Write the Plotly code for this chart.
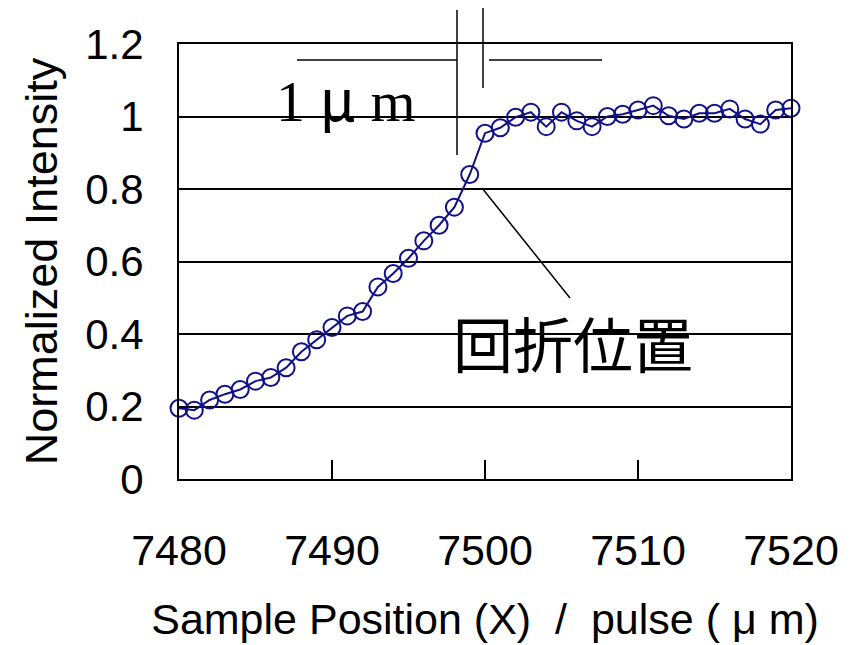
import plotly.graph_objects as go

positions = list(range(7480, 7521))
intensity = [0.195, 0.19, 0.218, 0.234, 0.247, 0.27, 0.28, 0.307, 0.351, 0.384,
             0.418, 0.45, 0.462, 0.53, 0.567, 0.609, 0.657, 0.70, 0.75, 0.84,
             0.954, 0.969, 0.998, 1.012, 0.972, 1.012, 0.988, 0.972, 1.0, 1.006,
             1.018, 1.03, 1.002, 0.993, 1.009, 1.009, 1.021, 0.993, 0.979, 1.018,
             1.023]
x_ticks = [7480, 7490, 7500, 7510, 7520]
y_ticks = [0, 0.2, 0.4, 0.6, 0.8, 1, 1.2]

navy = "#10108a"
font_family = "Arial, Liberation Sans, sans-serif"

fig = go.Figure()
fig.add_trace(go.Scatter(
    x=positions, y=intensity, mode="lines+markers",
    line=dict(color=navy, width=2),
    marker=dict(symbol="circle-open", size=17, color=navy, line=dict(width=2, color=navy)),
    cliponaxis=False, showlegend=False,
))

fig.update_layout(
    width=854, height=645,
    margin=dict(l=179, r=63, t=44, b=166),
    plot_bgcolor="white", paper_bgcolor="white",
    font=dict(family=font_family, size=42, color="black"),
    xaxis=dict(
        range=[7480, 7520], tickvals=x_ticks, ticktext=[str(v) for v in x_ticks],
        showgrid=False, zeroline=False, automargin=False,
        showline=True, linecolor="black", linewidth=2, mirror=True,
        ticks="inside", ticklen=19, tickwidth=1.5, tickcolor="black",
        ticklabelstandoff=32,
        tickfont=dict(size=43),
        title=dict(text="Sample Position (X)  /  pulse ( μ m)", font=dict(size=43), standoff=31),
    ),
    yaxis=dict(
        range=[0, 1.2], tickvals=y_ticks,
        showgrid=True, gridcolor="black", gridwidth=1.5, zeroline=False, automargin=False,
        showline=True, linecolor="black", linewidth=2, mirror=True,
        ticks="inside", ticklen=14, tickwidth=1.5, tickcolor="black",
        ticklabelstandoff=25,
        tickfont=dict(size=42),
        title=dict(text="Normalized Intensity", font=dict(size=45), standoff=13),
    ),
)

def px_x(p):
    return (p - 179) / 612.0

def px_y(p):
    return (479 - p) / 435.0

line_style = dict(color="black", width=1.5)
# scale bar marks
fig.add_shape(type="line", xref="paper", yref="paper",
              x0=px_x(457), x1=px_x(457), y0=px_y(10), y1=px_y(155), line=line_style)
fig.add_shape(type="line", xref="paper", yref="paper",
              x0=px_x(483), x1=px_x(483), y0=px_y(8), y1=px_y(88), line=line_style)
fig.add_shape(type="line", xref="paper", yref="paper",
              x0=px_x(297), x1=px_x(457), y0=px_y(60), y1=px_y(60), line=line_style)
fig.add_shape(type="line", xref="paper", yref="paper",
              x0=px_x(489), x1=px_x(602), y0=px_y(60), y1=px_y(60), line=line_style)
# pointer line
fig.add_shape(type="line", xref="paper", yref="paper",
              x0=px_x(482), x1=px_x(570), y0=px_y(188), y1=px_y(298), line=line_style)

fig.add_annotation(xref="paper", yref="paper", x=px_x(346), y=px_y(96),
                   xanchor="center", yanchor="middle",
                   text="1 <span style='font-family:Noto Sans CJK JP'>μ</span> m", showarrow=False,
                   font=dict(family="Liberation Serif, Times New Roman, serif", size=58, color="black"))
fig.add_annotation(xref="paper", yref="paper", x=px_x(573), y=px_y(341),
                   xanchor="center", yanchor="middle",
                   text="回折位置", showarrow=False,
                   font=dict(family="Noto Sans CJK JP", size=60, color="black"))

fig.write_html("out.html", config={"displayModeBar": False},
               post_script="document.body.style.margin='0px';")
